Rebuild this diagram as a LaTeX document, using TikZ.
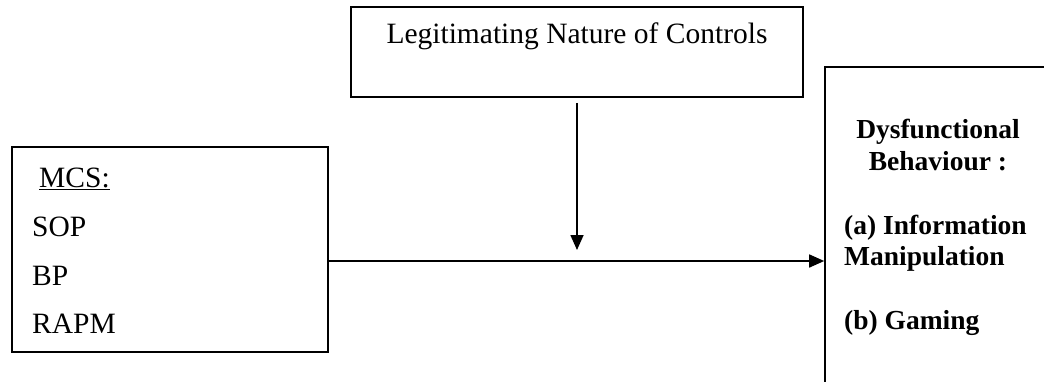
\documentclass[tikz,border=0pt]{standalone}
\usepackage{fontspec}
\setmainfont{Liberation Serif}
\usetikzlibrary{arrows.meta}
\begin{document}
\begin{tikzpicture}[x=1pt,y=-1pt,
  box/.style={draw,line width=1.6pt,inner sep=0pt},
  arr/.style={line width=1.6pt,-{Triangle[length=15pt,width=13pt]}},
  reg/.style={font=\fontsize{29.5}{34}\selectfont,inner sep=0pt},
  bld/.style={font=\fontsize{27.5}{32}\selectfont\bfseries,inner sep=0pt}]
\useasboundingbox (0,0) rectangle (1044,381);
\clip (0,0) rectangle (1044,381);

% boxes
\node[box,minimum width=452pt,minimum height=90pt] (legit) at (577,52) {};
\node[box,minimum width=316pt,minimum height=205pt] (mcs) at (170,249.5) {};
\node[box,minimum width=300pt,minimum height=360pt] (dys) at (975,247) {};

% moderator box text
\node[reg,anchor=base] (tlegit) at (577,43) {Legitimating Nature of Controls};

% MCS list
\node[reg,anchor=base west] (tmcs) at (39,187) {\underline{MCS:}};
\node[reg,anchor=base west] (tsop) at (32,236) {SOP};
\node[reg,anchor=base west] (tbp) at (32,285) {BP};
\node[reg,anchor=base west] (trapm) at (32,333) {RAPM};

% outcome text
\node[bld,anchor=base] (td1) at (938,138) {Dysfunctional};
\node[bld,anchor=base] (td2) at (938,170) {Behaviour :};
\node[bld,anchor=base west] (td3) at (844,234) {(a) Information};
\node[bld,anchor=base west] (td4) at (844,265) {Manipulation};
\node[bld,anchor=base west] (td5) at (844,329) {(b) Gaming};

% connectors
\coordinate (meet) at (577,250);
\coordinate (hl) at (0,261);
\draw[arr] ([yshift=-5pt]legit.south) -- (meet);
\draw[arr] (mcs.east |- hl) -- (dys.west |- hl);
\end{tikzpicture}
\end{document}
